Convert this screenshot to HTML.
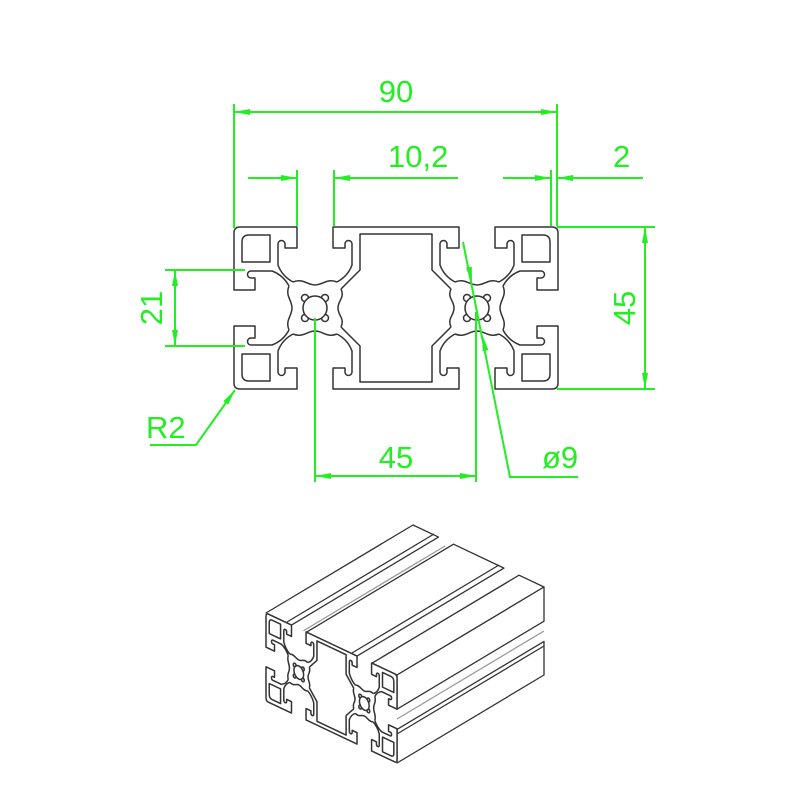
<!DOCTYPE html>
<html><head><meta charset="utf-8"><style>
html,body{margin:0;padding:0;background:#fff}
svg{display:block}
text{font-family:"Liberation Sans",sans-serif;fill:#22ee22}
</style></head><body>
<svg width="800" height="800" viewBox="0 0 800 800" xmlns="http://www.w3.org/2000/svg">
<defs>
<g id="tophalf" fill="none" stroke="#333" stroke-width="1.5" stroke-linejoin="round">
  <path vector-effect="non-scaling-stroke" d="M-22,-26 Q-33,-32 -37,-43 L-37,-64 A3.5,3.5 0 0 1 -30,-64 L-30,-60 L-18,-60 L-18,-81 L-75,-81 Q-81,-81 -81,-75 L-81,-18 L-60,-18 L-60,-30 L-64,-30 A3.5,3.5 0 0 1 -64,-37 L-43,-37 Q-32,-33 -26,-22"/>
  <path vector-effect="non-scaling-stroke" d="M81,-81 L18,-81 L18,-60 L30,-60 L30,-64 A3.5,3.5 0 0 1 37,-64 L37,-43 Q33,-32 22,-26"/>
  <path vector-effect="non-scaling-stroke" d="M-73,-66 Q-73,-73 -66,-73 L-45,-73 L-45,-46 L-73,-46 Z"/>
  <path vector-effect="non-scaling-stroke" d="M81,-74 L45,-74 L45,-38 L26,-19"/>
</g>
<g id="unit" fill="none" stroke="#333" stroke-width="1.5">
  <use href="#tophalf"/>
  <use href="#tophalf" transform="scale(1,-1)"/>
  <path vector-effect="non-scaling-stroke" d="M-22,-26 C-12,-30 -8,-23 0,-23 C8,-23 12,-30 22,-26"/>
  <path vector-effect="non-scaling-stroke" d="M-22,26 C-12,30 -8,23 0,23 C8,23 12,30 22,26"/>
  <path vector-effect="non-scaling-stroke" d="M-26,-22 C-30,-12 -23,-8 -23,0 C-23,8 -30,12 -26,22"/>
  <path vector-effect="non-scaling-stroke" d="M26,-19 C30,-10 23,-8 23,0 C23,8 30,10 26,19"/>
  <g fill="#fff">
    <circle vector-effect="non-scaling-stroke" cx="-10" cy="-10" r="3.5"/>
    <circle vector-effect="non-scaling-stroke" cx="10" cy="-10" r="3.5"/>
    <circle vector-effect="non-scaling-stroke" cx="-10" cy="10" r="3.5"/>
    <circle vector-effect="non-scaling-stroke" cx="10" cy="10" r="3.5"/>
    <circle vector-effect="non-scaling-stroke" cx="0" cy="0" r="12"/>
  </g>
</g>
<g id="profile">
  <use href="#unit" transform="translate(315,308)"/>
  <use href="#unit" transform="translate(477,308) scale(-1,1)"/>
</g>
</defs>

<use href="#profile"/>

<g stroke="#22ee22" stroke-width="2" fill="none">
  <path d="M234,104 V228 M557,104 V226 M234,112 H557"/>
  <path d="M297,170 V226 M334,170 V226 M248,178 H297 M334,178 H458"/>
  <path d="M551,170 V226 M503,178 H551 M557,178 H643"/>
  <path d="M557,227 H655 M557,389 H655 M645,227 V389"/>
  <path d="M165,270 H245 M165,346 H245 M175,270 V346"/>
  <path d="M235,390 L196,445 H150"/>
  <path d="M315,318 V482 M476,312 V482 M315,476 H476"/>
  <path d="M463,242 L510,477 H578"/>
</g>
<g fill="#22ee22">
  <polygon points="234,112 250,109 250,115"/><polygon points="557,112 541,109 541,115"/>
  <polygon points="297,178 281,175 281,181"/><polygon points="334,178 350,175 350,181"/>
  <polygon points="551,178 535,175 535,181"/><polygon points="557,178 573,175 573,181"/>
  <polygon points="645,227 642,243 648,243"/><polygon points="645,389 642,373 648,373"/>
  <polygon points="175,270 172,286 178,286"/><polygon points="175,346 172,330 178,330"/>
  <polygon points="315,476 331,473 331,479"/><polygon points="476,476 460,473 460,479"/>
  <polygon points="235,390 228.1,404.7 223.3,401.3"/>
  <polygon points="472,283 471.8,266.7 466,267.9"/>
  <polygon points="482.4,335 488.4,350.1 482.6,351.3"/>
</g>
<g font-size="31">
  <text x="396" y="102" text-anchor="middle">90</text>
  <text x="388" y="167">10,2</text>
  <text x="613" y="167">2</text>
  <text x="396" y="468" text-anchor="middle">45</text>
  <text x="542" y="468">ø9</text>
  <text x="146" y="438">R2</text>
  <text transform="translate(635,308) rotate(-90)" text-anchor="middle">45</text>
  <text transform="translate(162,308) rotate(-90)" text-anchor="middle">21</text>
</g>

<g stroke="#333" stroke-width="1.3" fill="#fff" stroke-linejoin="round">
  <path fill="none" stroke="#999" d="M298,634 L445,546 M364,668 L511,580 M397,719 L544,631"/>
  <polygon points="266,613 291.5,625.1 438.5,537.1 413,525"/>
  <polygon points="306.5,632.2 357,656.1 504,568.1 453.5,544.2"/>
  <polygon points="372,663.2 397,675 544,587 519,575.2"/>
  <polygon points="397,675 397,709.2 544,621.2 544,587"/>
  <polygon points="397,729.4 397,763 544,675 544,641.4"/>
  <path fill="none" d="M287,622 L434,534 M352,653 L499,565 M397,734 L544,646"/>
  <path fill="none" stroke="#888" d="M270,690 L320,660 M300,705 L350,675 M330,720 L380,690"/>
  <polygon points="266,613 397,675 397,763 266,701" stroke="none" fill="#fff"/>
  <g transform="matrix(0.4045,0.1914,0,0.5432,171.35,444.9)">
    <use href="#profile"/>
  </g>
</g>
</svg>
</body></html>
